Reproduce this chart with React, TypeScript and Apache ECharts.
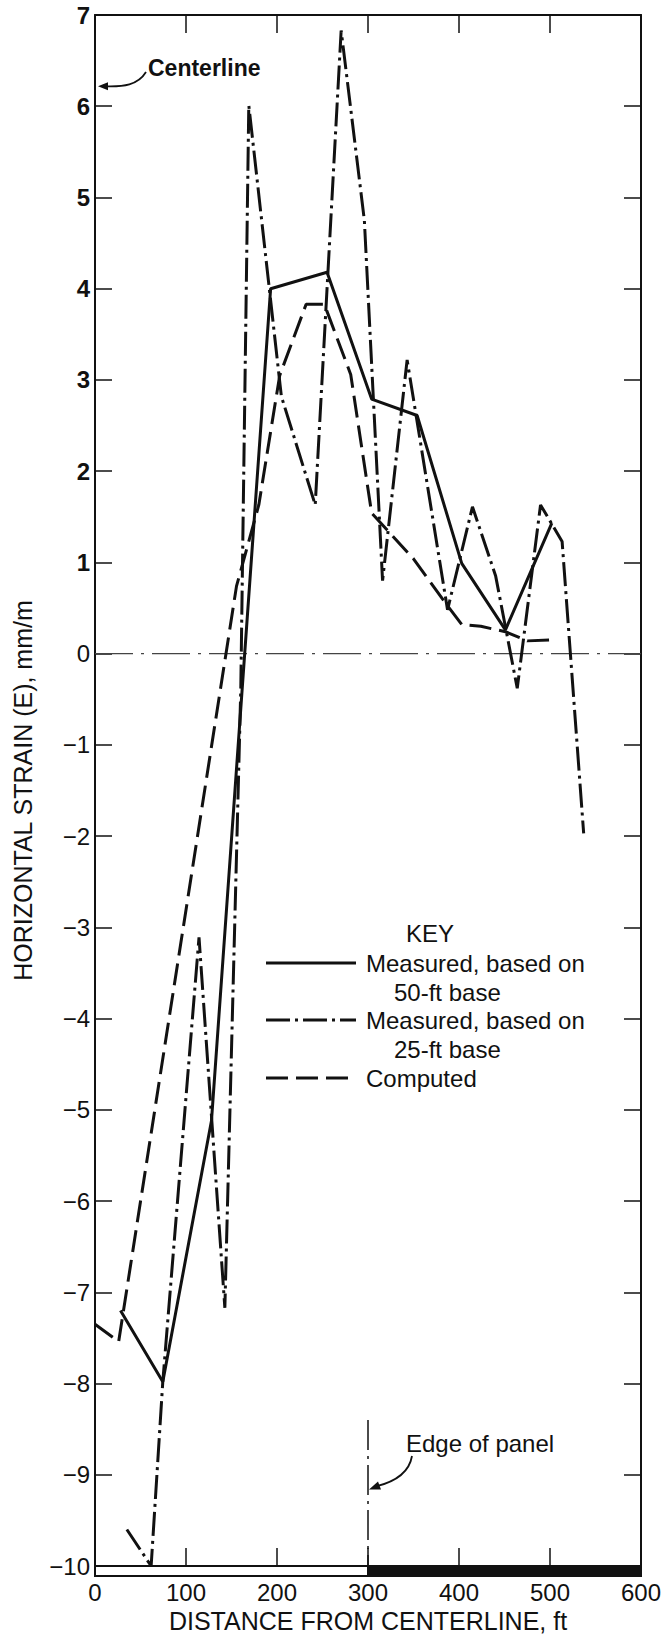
import React, { useEffect, useRef } from "react";
import * as echarts from "echarts";

// ---- axis ranges ----
const X_MIN = 0;
const X_MAX = 600;
const X_STEP = 100;
const Y_MIN = -10;
const Y_MAX = 7;
const Y_STEP = 1;

// ---- data (distance ft, strain mm/m) ----
const measured50ft: [number, number][] = [
  [28, -7.2], [74.5, -7.98], [128, -5.12], [193, 4.0], [255, 4.18],
  [304, 2.79], [354, 2.61], [403, 0.99], [451, 0.26], [502, 1.43],
];

const measured25ft: [number, number][] = [
  [35, -9.6], [61.7, -10.0], [74.5, -7.98], [114.3, -3.11], [142.7, -7.17],
  [160.2, -0.39], [169, 6.01], [204.8, 2.82], [242, 1.63], [270.5, 6.83],
  [296, 4.75], [316, 0.8], [343, 3.22], [387.4, 0.48], [414.8, 1.61],
  [440.3, 0.85], [464, -0.38], [489.6, 1.63], [513.3, 1.23], [537, -1.97],
];

const computedStrain: [number, number][] = [
  [0, -7.35], [26, -7.54], [155.5, 0.74], [180, 1.63], [203, 3.05],
  [232, 3.83], [252, 3.83], [281, 3.06], [304, 1.54], [350, 1.04],
  [384, 0.57], [403, 0.32], [424, 0.3], [451, 0.24], [475, 0.14], [500, 0.15],
];

const zeroLine: [number, number][] = [[0, 0], [600, 0]];
const panelEdgeLine: [number, number][] = [[300, -8.4], [300, -10]];
const panelBar = [
  { from: 0, to: 300, solid: false },
  { from: 300, to: 600, solid: true },
];
const centerlineArrowY = 6.22;
const edgeArrowPoint: [number, number] = [300, -9.15];

const legendKeys = [
  { first: "Measured, based on", second: "50-ft base", style: "solid" },
  { first: "Measured, based on", second: "25-ft base", style: "dashdot" },
  { first: "Computed", second: "", style: "dashed" },
];

const INK = "#111";
const FONT = '"Liberation Sans", Arial, sans-serif';
const DASH_DOT = [24, 5, 3, 5];
const DASHED = [22, 8];

function dashFor(s: string): any {
  if (s === "dashdot") return DASH_DOT;
  if (s === "dashed") return DASHED;
  return "solid";
}

export default function App() {
  const ref = useRef<HTMLDivElement>(null);

  useEffect(() => {
    if (!ref.current) return;
    const chart = echarts.init(ref.current, undefined, { renderer: "svg" });

    const seriesLine = (name: string, data: [number, number][], type: any, width: number, color = INK) => ({
      name,
      type: "line",
      data,
      showSymbol: false,
      symbol: "none",
      silent: true,
      lineStyle: { color, width, type },
      z: 3,
    });

    const option: any = {
      animation: false,
      backgroundColor: "#fff",
      grid: { left: 95, right: 24, top: 15, bottom: 73, containLabel: false },
      xAxis: [
        {
          type: "value",
          min: X_MIN,
          max: X_MAX,
          interval: X_STEP,
          position: "bottom",
          axisLine: { show: true, onZero: false, lineStyle: { color: INK, width: 2 } },
          axisTick: { show: true, inside: true, length: 18, lineStyle: { color: INK, width: 1.5 } },
          axisLabel: { margin: 14, fontSize: 24, color: INK, fontFamily: FONT },
          splitLine: { show: false },
          name: "DISTANCE FROM CENTERLINE, ft",
          nameLocation: "middle",
          nameGap: 38,
          nameTextStyle: { fontSize: 25, color: INK, fontFamily: FONT },
        },
        {
          type: "value",
          min: X_MIN,
          max: X_MAX,
          interval: X_STEP,
          position: "top",
          axisLine: { show: true, onZero: false, lineStyle: { color: INK, width: 2 } },
          axisTick: { show: true, inside: true, length: 18, lineStyle: { color: INK, width: 1.5 } },
          axisLabel: { show: false },
          splitLine: { show: false },
        },
      ],
      yAxis: [
        {
          type: "value",
          min: Y_MIN,
          max: Y_MAX,
          interval: Y_STEP,
          position: "left",
          axisLine: { show: true, onZero: false, lineStyle: { color: INK, width: 2 } },
          axisTick: { show: true, inside: true, length: 17, lineStyle: { color: INK, width: 1.5 } },
          axisLabel: {
            margin: 5,
            formatter: (v: number) =>
              v > 0 ? `{b|${v}}` : v < 0 ? `{n|\u2212${-v}}` : `{n|0}`,
            rich: {
              b: { fontSize: 24, fontWeight: "bold", color: INK, fontFamily: FONT },
              n: { fontSize: 24, color: INK, fontFamily: FONT },
            },
          },
          splitLine: { show: false },
          name: "HORIZONTAL STRAIN (E), mm/m",
          nameLocation: "middle",
          nameGap: 60,
          nameTextStyle: { fontSize: 25, color: INK, fontFamily: FONT },
        },
        {
          type: "value",
          min: Y_MIN,
          max: Y_MAX,
          interval: Y_STEP,
          position: "right",
          axisLine: { show: true, onZero: false, lineStyle: { color: INK, width: 2 } },
          axisTick: { show: true, inside: true, length: 17, lineStyle: { color: INK, width: 1.5 } },
          axisLabel: { show: false },
          splitLine: { show: false },
        },
      ],
      series: [
        { ...seriesLine("zero", zeroLine, [38, 8, 3, 8], 1.2, "#444"), z: 2 },
        { ...seriesLine("edge", panelEdgeLine, [30, 6, 3, 6], 1.5), z: 2 },
        seriesLine("Measured, based on 50-ft base", measured50ft, "solid", 3),
        seriesLine("Measured, based on 25-ft base", measured25ft, DASH_DOT, 3),
        seriesLine("Computed", computedStrain, DASHED, 3),
      ],
    };

    chart.setOption(option);

    const px = (x: number, y: number) =>
      chart.convertToPixel({ xAxisIndex: 0, yAxisIndex: 0 }, [x, y]) as number[];

    const graphics: any[] = [];

    // bar under the x axis
    panelBar.forEach((b) => {
      const [x0, y0] = px(b.from, Y_MIN);
      const [x1] = px(b.to, Y_MIN);
      graphics.push({
        type: "rect",
        shape: { x: x0, y: y0, width: x1 - x0, height: 10 },
        style: { fill: b.solid ? INK : "#fff", stroke: INK, lineWidth: 2 },
        z: 10,
      });
    });

    // Centerline annotation
    const [cx, cy] = px(0, centerlineArrowY);
    graphics.push({
      type: "text",
      style: {
        text: "Centerline",
        x: 148,
        y: 68,
        font: `bold 23px ${FONT}`,
        fill: INK,
        verticalAlign: "middle",
        textVerticalAlign: "middle",
      },
      z: 10,
    });
    graphics.push({
      type: "bezierCurve",
      shape: { x1: 146, y1: 72, cpx1: 138, cpy1: 85, cpx2: 124, cpy2: cy + 1, x2: cx + 8, y2: cy },
      style: { stroke: INK, lineWidth: 1.8, fill: null },
      z: 10,
    });
    graphics.push({
      type: "polygon",
      shape: { points: [[cx + 3, cy], [cx + 13, cy - 4], [cx + 13, cy + 4]] },
      style: { fill: INK },
      z: 10,
    });

    // Edge of panel annotation
    const [ex, ey] = px(edgeArrowPoint[0], edgeArrowPoint[1]);
    graphics.push({
      type: "text",
      style: {
        text: "Edge of panel",
        x: 406,
        y: 1443,
        font: `24px ${FONT}`,
        fill: INK,
        verticalAlign: "middle",
        textVerticalAlign: "middle",
      },
      z: 10,
    });
    graphics.push({
      type: "bezierCurve",
      shape: { x1: 412, y1: 1456, cpx1: 409, cpy1: 1474, cpx2: 392, cpy2: ey - 6, x2: ex + 8, y2: ey - 2 },
      style: { stroke: INK, lineWidth: 1.8, fill: null },
      z: 10,
    });
    graphics.push({
      type: "polygon",
      shape: { points: [[ex + 1, ey + 1], [ex + 10, ey - 7], [ex + 13, ey + 1]] },
      style: { fill: INK },
      z: 10,
    });

    // KEY
    graphics.push({
      type: "text",
      style: {
        text: "KEY",
        x: 430,
        y: 933,
        font: `24px ${FONT}`,
        fill: INK,
        align: "center",
        textAlign: "center",
        verticalAlign: "middle",
        textVerticalAlign: "middle",
      },
      z: 10,
    });
    const rowY = [963, 1020, 1078];
    legendKeys.forEach((k, i) => {
      const y = rowY[i];
      const dash = dashFor(k.style);
      graphics.push({
        type: "line",
        shape: { x1: 266, y1: y, x2: 356, y2: y },
        style: { stroke: INK, lineWidth: 3, lineDash: dash === "solid" ? null : dash },
        z: 10,
      });
      graphics.push({
        type: "text",
        style: {
          text: k.first,
          x: 366,
          y: y,
          font: `24px ${FONT}`,
          fill: INK,
          verticalAlign: "middle",
          textVerticalAlign: "middle",
        },
        z: 10,
      });
      if (k.second) {
        graphics.push({
          type: "text",
          style: {
            text: k.second,
            x: 394,
            y: y + 29,
            font: `24px ${FONT}`,
            fill: INK,
            verticalAlign: "middle",
            textVerticalAlign: "middle",
          },
          z: 10,
        });
      }
    });

    chart.setOption({ graphic: graphics });

    return () => chart.dispose();
  }, []);

  return (
    <div
      ref={ref}
      style={{ position: "absolute", left: 0, top: 0, width: 665, height: 1639, background: "#fff" }}
    />
  );
}
